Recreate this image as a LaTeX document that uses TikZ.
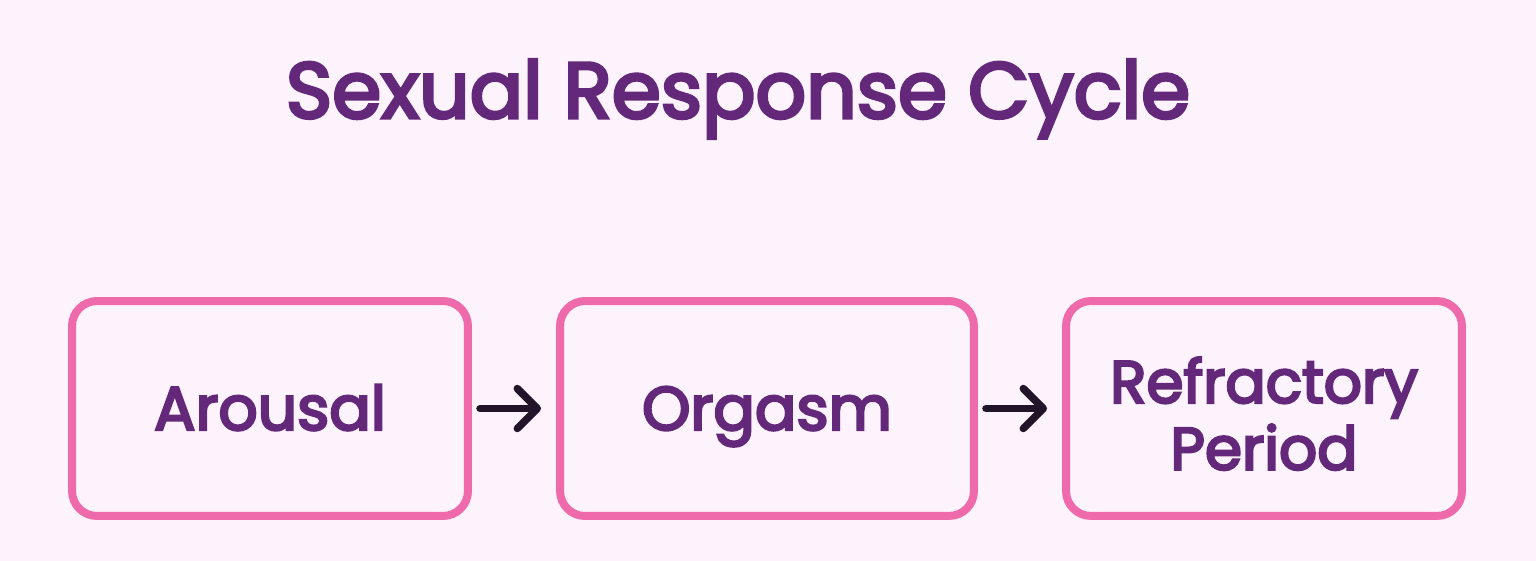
\documentclass[tikz,border=0pt]{standalone}
\usepackage{fontspec}
\setmainfont{Poppins}[FakeBold=4]
\usetikzlibrary{arrows.meta}
\definecolor{bgpink}{HTML}{FCF3FC}
\definecolor{boxpink}{HTML}{EE6AAA}
\definecolor{plum}{HTML}{632879}
\definecolor{ink}{HTML}{22152A}

\begin{document}
\begin{tikzpicture}[x=0.02cm, y=-0.02cm, very thick]

\tikzstyle{phase}=[draw=boxpink, line width=0.16cm, rounded corners=0.5cm, fill=bgpink, minimum height=4.3cm, text=plum, align=center, font=\fontsize{35}{38}\selectfont]
\tikzstyle{oneline}=[text height=0.86cm, text depth=0pt]
\tikzstyle{flow}=[draw=ink, line width=0.15cm, line cap=round, shorten <=0.16cm, shorten >=0.3cm, -{Straight Barb[length=0.4cm, width=0.8cm, line cap=round, line join=round]}]

% background and page size
\fill[bgpink] (0,0) rectangle (1536,561);

\node[anchor=base, text=plum, font=\fontsize{45}{50}\selectfont] (title) at (738,118) {Sexual Response Cycle};

\node[phase, oneline, minimum width=7.92cm] (arousal) at (270,408.5) {Arousal};
\node[phase, oneline, minimum width=8.28cm] (orgasm) at (767,408.5) {Orgasm};
\node[phase, minimum width=7.92cm, text width=7cm] (refractory) at (1264,408.5) {\fontsize{34}{38}\selectfont\rule{0pt}{1.12cm}Refractory\\Period};

\draw[flow] (arousal) -- (orgasm);
\draw[flow] (orgasm) -- (refractory);

\end{tikzpicture}
\end{document}
